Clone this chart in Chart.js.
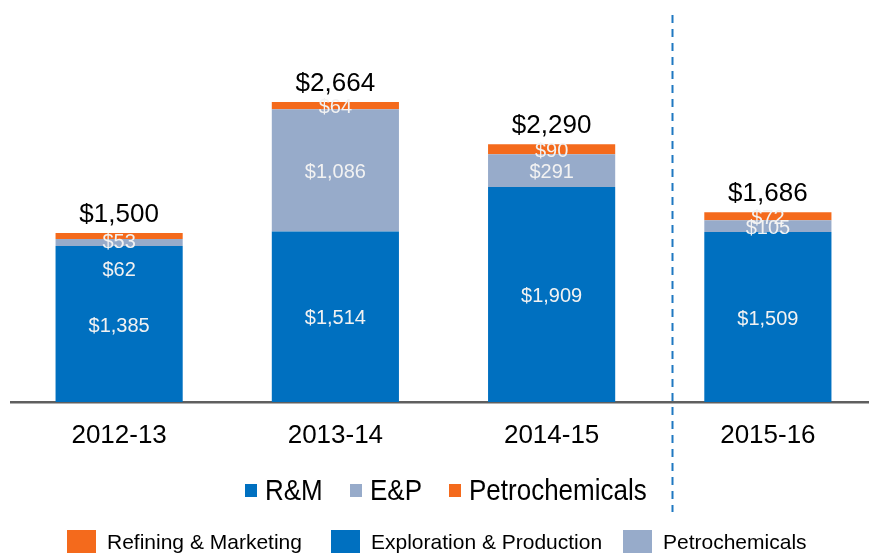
<!DOCTYPE html>
<html>
<head>
<meta charset="utf-8">
<script src="https://cdn.jsdelivr.net/npm/chart.js@4"></script>
<style>
  html, body { margin: 0; padding: 0; background: #fff; overflow: hidden; }
  #wrap { position: relative; width: 876px; height: 553px; }
  #chart { position: absolute; left: 0; top: 0; }
  .legend { position: absolute; font-family: "Liberation Sans", Arial, sans-serif; color: #000; white-space: nowrap; }
  .legend .item { position: absolute; display: flex; align-items: center; }
  #legendTop { top: 475px; height: 30px; font-size: 26px; line-height: 30px; }
  #legendTop .box { width: 12px; height: 13px; margin-right: 8px; }
  #legendTop .txt { display: inline-block; transform: scaleY(1.12); }
  #legendBottom { top: 530px; height: 24px; font-size: 21px; line-height: 24px; }
  #legendBottom .item { align-items: flex-start; }
  #legendBottom .box { width: 29px; height: 24px; margin-right: 11px; }
</style>
</head>
<body>
<div id="wrap">
  <canvas id="chart" width="876" height="553"></canvas>
  <div class="legend" id="legendTop"></div>
  <div class="legend" id="legendBottom"></div>
</div>
<script>
// Capex by segment ($ million)
const years = ['2012-13', '2013-14', '2014-15', '2015-16'];
const rmValues = [1385, 1514, 1909, 1509];
const epValues = [62, 1086, 291, 105];
const petroValues = [53, 64, 90, 72];
const totals = [1500, 2664, 2290, 1686];

const BLUE = '#0070C0';
const GREY = '#97ABCA';
const ORANGE = '#F46A1C';

const topLegend = [
    { text: 'R&M', color: BLUE, left: 245 },
    { text: 'E&P', color: GREY, left: 350 },
    { text: 'Petrochemicals', color: ORANGE, left: 449 }
];
const bottomLegend = [
    { text: 'Refining & Marketing', color: ORANGE, left: 67 },
    { text: 'Exploration & Production', color: BLUE, left: 331 },
    { text: 'Petrochemicals', color: GREY, left: 623 }
];

function money(v) {
    return '$' + v.toLocaleString('en-US');
}

// label nudges (px) for crowded segments, per dataset / per bar
const labelNudge = [[0, 0, 0, 0], [26, 0, 0, 0], [4, 0, 0, 0]];

const segmentLabels = {
    id: 'segmentLabels',
    afterDatasetsDraw(chart) {
        const ctx = chart.ctx;
        ctx.save();
        ctx.textAlign = 'center';
        ctx.textBaseline = 'middle';
        ctx.font = '20px "Liberation Sans", Arial, sans-serif';
        ctx.fillStyle = '#F2F2F2';
        chart.data.datasets.forEach((ds, di) => {
            const meta = chart.getDatasetMeta(di);
            meta.data.forEach((bar, i) => {
                const y = (bar.y + bar.base) / 2 + 2 + labelNudge[di][i];
                ctx.fillText(money(ds.data[i]), bar.x, y);
            });
        });

        // totals on top of each stack
        const last = chart.getDatasetMeta(chart.data.datasets.length - 1);
        ctx.font = '26px "Liberation Sans", Arial, sans-serif';
        ctx.fillStyle = '#000';
        last.data.forEach((bar, i) => {
            ctx.fillText(money(totals[i]), bar.x, bar.y - 18);
        });

        // dashed separator before the projection year
        const x = Math.round(chart.scales.x.getPixelForValue(2.557)) + 0.5;
        ctx.strokeStyle = '#1F78C1';
        ctx.lineWidth = 2;
        ctx.setLineDash([8, 6]);
        ctx.beginPath();
        ctx.moveTo(x, 15);
        ctx.lineTo(x, 512);
        ctx.stroke();
        ctx.restore();
    }
};

new Chart(document.getElementById('chart'), {
    type: 'bar',
    data: {
        labels: years,
        datasets: [
            { label: 'R&M', data: rmValues, backgroundColor: BLUE },
            { label: 'E&P', data: epValues, backgroundColor: GREY },
            { label: 'Petrochemicals', data: petroValues, backgroundColor: ORANGE }
        ]
    },
    options: {
        responsive: false,
        animation: false,
        layout: { padding: { left: 11, right: 0, top: 0, bottom: 0 } },
        datasets: {
            bar: { barPercentage: 0.588, categoryPercentage: 1.0 }
        },
        plugins: {
            legend: { display: false },
            tooltip: { enabled: false }
        },
        scales: {
            x: {
                stacked: true,
                grid: { display: false, drawTicks: false },
                border: { display: true, color: '#5F5F5F', width: 2.5 },
                ticks: {
                    color: '#000',
                    padding: 18,
                    font: { family: '"Liberation Sans", Arial, sans-serif', size: 26 }
                },
                afterFit(scale) { scale.height = 151; }
            },
            y: {
                stacked: true,
                display: false,
                min: 0,
                max: 3570
            }
        }
    },
    plugins: [segmentLabels]
});

function buildLegend(el, items) {
    items.forEach(it => {
        const item = document.createElement('div');
        item.className = 'item';
        item.style.left = it.left + 'px';
        const box = document.createElement('span');
        box.className = 'box';
        box.style.background = it.color;
        const txt = document.createElement('span');
        txt.className = 'txt';
        txt.textContent = it.text;
        item.appendChild(box);
        item.appendChild(txt);
        el.appendChild(item);
    });
}
buildLegend(document.getElementById('legendTop'), topLegend);
buildLegend(document.getElementById('legendBottom'), bottomLegend);
</script>
</body>
</html>
